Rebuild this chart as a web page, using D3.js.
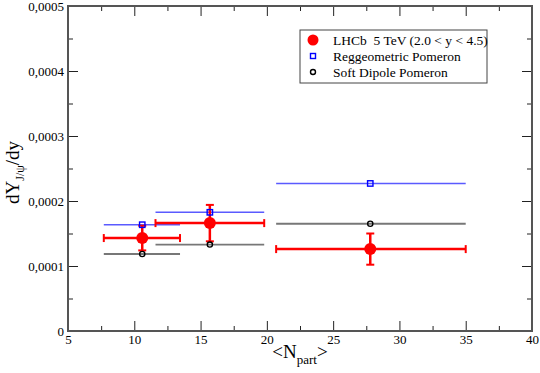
<!DOCTYPE html>
<html>
<head>
<meta charset="utf-8">
<script src="https://cdn.jsdelivr.net/npm/d3@7"></script>
<style>
  body { margin: 0; background: #fff; }
  svg { display: block; }
  svg text { font-family: "Liberation Serif", "Times New Roman", serif !important; }
</style>
</head>
<body>
<svg width="540" height="373"></svg>
<script>
(function (d3) {
  "use strict";

  // LHCb data: Npart, dY/dy, x range, y error
  var lhcbX = [10.6, 15.7, 27.8];
  var lhcbY = [0.000143, 0.000166, 0.000126];
  var lhcbXLo = [7.7, 11.6, 20.7];
  var lhcbXHi = [13.45, 19.8, 35.0];
  var lhcbErr = [0.000019, 0.000028, 0.000024];

  // model curves (shown with their centrality range)
  var reggeY = [0.0001635, 0.0001826, 0.000227];
  var softY = [0.0001185, 0.000133, 0.000165];

  var xTicks = [5, 10, 15, 20, 25, 30, 35, 40];
  var yTicks = [0, 0.0001, 0.0002, 0.0003, 0.0004, 0.0005];

  var legendLabels = ["LHCb  5 TeV (2.0 < y < 4.5)", "Reggeometric Pomeron", "Soft Dipole Pomeron"];

  var serif = "'Liberation Serif', 'Times New Roman', serif";
  var svg = d3.select("svg");
  var left = 68, right = 532, top = 6, bottom = 331;

  var x = d3.scaleLinear().domain([5, 40]).range([left, right]);
  var y = d3.scaleLinear().domain([0, 0.0005]).range([bottom, top]);

  var fmtY = function (d) { return d === 0 ? "0" : d3.format(".4f")(d).replace(".", ","); };

  var axisColor = "#555";

  // minor ticks
  var xMinor = d3.range(7.5, 40, 5);
  var yMinor = d3.range(0.00005, 0.0005, 0.0001);

  function styleAxis(g) {
    g.attr("font-family", serif);
    g.select(".domain").remove();
    g.selectAll(".tick line").attr("stroke", "#222").attr("stroke-width", 1);
    g.selectAll(".tick text").attr("fill", "#000").style("font-size", "13px");
  }

  svg.append("g").attr("transform", "translate(0," + bottom + ")")
    .call(d3.axisBottom(x).tickValues(xTicks).tickSize(-10).tickPadding(4))
    .call(styleAxis);
  svg.append("g").attr("transform", "translate(0," + bottom + ")")
    .call(d3.axisBottom(x).tickValues(xMinor).tickSize(-5).tickFormat(""))
    .call(styleAxis);
  svg.append("g").attr("transform", "translate(0," + top + ")")
    .call(d3.axisTop(x).tickValues(xTicks).tickSize(-10).tickFormat(""))
    .call(styleAxis);
  svg.append("g").attr("transform", "translate(0," + top + ")")
    .call(d3.axisTop(x).tickValues(xMinor).tickSize(-5).tickFormat(""))
    .call(styleAxis);

  svg.append("g").attr("transform", "translate(" + left + ",0)")
    .call(d3.axisLeft(y).tickValues(yTicks).tickSize(-10).tickPadding(4).tickFormat(fmtY))
    .call(styleAxis);
  svg.append("g").attr("transform", "translate(" + left + ",0)")
    .call(d3.axisLeft(y).tickValues(yMinor).tickSize(-5).tickFormat(""))
    .call(styleAxis);
  svg.append("g").attr("transform", "translate(" + right + ",0)")
    .call(d3.axisRight(y).tickValues(yTicks).tickSize(-10).tickFormat(""))
    .call(styleAxis);
  svg.append("g").attr("transform", "translate(" + right + ",0)")
    .call(d3.axisRight(y).tickValues(yMinor).tickSize(-5).tickFormat(""))
    .call(styleAxis);

  // frame
  svg.append("rect")
    .attr("x", left).attr("y", top)
    .attr("width", right - left).attr("height", bottom - top)
    .attr("fill", "none").attr("stroke", axisColor).attr("stroke-width", 2);

  // axis titles
  var yl = svg.append("text")
    .attr("transform", "translate(19," + (top + bottom + 8) / 2 + ") rotate(-90)")
    .attr("text-anchor", "middle")
    .style("font-family", serif)
    .style("font-size", "19px");
  yl.append("tspan").text("dY");
  yl.append("tspan").attr("dy", 5).style("font-size", "12px").text("J/\u03C8");
  yl.append("tspan").attr("dy", -5).text("/dy");

  var xl = svg.append("text")
    .attr("x", (left + right) / 2).attr("y", 358)
    .attr("text-anchor", "middle")
    .style("font-family", serif)
    .style("font-size", "19px");
  xl.append("tspan").text("<N");
  xl.append("tspan").attr("dy", 6).style("font-size", "13px").text("part");
  xl.append("tspan").attr("dy", -6).text(">");

  var idx = d3.range(lhcbX.length);

  // model ranges
  svg.selectAll(".soft-line").data(idx).enter().append("line")
    .attr("x1", function (i) { return x(lhcbXLo[i]); })
    .attr("x2", function (i) { return x(lhcbXHi[i]); })
    .attr("y1", function (i) { return y(softY[i]); })
    .attr("y2", function (i) { return y(softY[i]); })
    .attr("stroke", "#777").attr("stroke-width", 1.8);

  svg.selectAll(".regge-line").data(idx).enter().append("line")
    .attr("x1", function (i) { return x(lhcbXLo[i]); })
    .attr("x2", function (i) { return x(lhcbXHi[i]); })
    .attr("y1", function (i) { return y(reggeY[i]); })
    .attr("y2", function (i) { return y(reggeY[i]); })
    .attr("stroke", "#5a5aff").attr("stroke-width", 1.5);

  // LHCb error bars
  var red = "#ff0000";
  var eb = svg.selectAll(".eb").data(idx).enter().append("g");
  eb.append("line")
    .attr("x1", function (i) { return x(lhcbXLo[i]); })
    .attr("x2", function (i) { return x(lhcbXHi[i]); })
    .attr("y1", function (i) { return y(lhcbY[i]); })
    .attr("y2", function (i) { return y(lhcbY[i]); })
    .attr("stroke", red).attr("stroke-width", 2.5);
  eb.append("line")
    .attr("x1", function (i) { return x(lhcbX[i]); })
    .attr("x2", function (i) { return x(lhcbX[i]); })
    .attr("y1", function (i) { return y(lhcbY[i] - lhcbErr[i]); })
    .attr("y2", function (i) { return y(lhcbY[i] + lhcbErr[i]); })
    .attr("stroke", red).attr("stroke-width", 2.5);
  [lhcbXLo, lhcbXHi].forEach(function (arr) {
    eb.append("line")
      .attr("x1", function (i) { return x(arr[i]); })
      .attr("x2", function (i) { return x(arr[i]); })
      .attr("y1", function (i) { return y(lhcbY[i]) - 4; })
      .attr("y2", function (i) { return y(lhcbY[i]) + 4; })
      .attr("stroke", red).attr("stroke-width", 2);
  });
  [1, -1].forEach(function (s) {
    eb.append("line")
      .attr("x1", function (i) { return x(lhcbX[i]) - 4; })
      .attr("x2", function (i) { return x(lhcbX[i]) + 4; })
      .attr("y1", function (i) { return y(lhcbY[i] + s * lhcbErr[i]); })
      .attr("y2", function (i) { return y(lhcbY[i] + s * lhcbErr[i]); })
      .attr("stroke", red).attr("stroke-width", 2);
  });

  // markers
  svg.selectAll(".soft-pt").data(idx).enter().append("circle")
    .attr("cx", function (i) { return x(lhcbX[i]); })
    .attr("cy", function (i) { return y(softY[i]); })
    .attr("r", 2.6)
    .attr("fill", "none").attr("stroke", "#000").attr("stroke-width", 1.4);

  svg.selectAll(".regge-pt").data(idx).enter().append("rect")
    .attr("x", function (i) { return x(lhcbX[i]) - 2.7; })
    .attr("y", function (i) { return y(reggeY[i]) - 2.7; })
    .attr("width", 5.4).attr("height", 5.4)
    .attr("fill", "none").attr("stroke", "#0000ff").attr("stroke-width", 1.4);

  svg.selectAll(".lhcb-pt").data(idx).enter().append("circle")
    .attr("cx", function (i) { return x(lhcbX[i]); })
    .attr("cy", function (i) { return y(lhcbY[i]); })
    .attr("r", 6)
    .attr("fill", red);

  // legend
  var lg = svg.append("g").attr("transform", "translate(300,30)");
  lg.append("rect")
    .attr("width", 187).attr("height", 53)
    .attr("fill", "#fff").attr("stroke", "#444").attr("stroke-width", 1);
  var rows = [10, 26, 42];
  lg.append("circle").attr("cx", 13).attr("cy", rows[0]).attr("r", 5.5).attr("fill", red);
  lg.append("rect").attr("x", 10.5).attr("y", rows[1] - 2.5).attr("width", 5).attr("height", 5)
    .attr("fill", "none").attr("stroke", "#0000ff").attr("stroke-width", 1.4);
  lg.append("circle").attr("cx", 13).attr("cy", rows[2]).attr("r", 2.5)
    .attr("fill", "none").attr("stroke", "#000").attr("stroke-width", 1.4);
  lg.selectAll(".lt").data(legendLabels).enter().append("text")
    .attr("x", 33)
    .attr("y", function (d, i) { return rows[i] + 4.5; })
    .style("font-family", serif)
    .style("font-size", "13.5px")
    .style("white-space", "pre")
    .text(function (d) { return d; });
})(d3);
</script>
</body>
</html>
